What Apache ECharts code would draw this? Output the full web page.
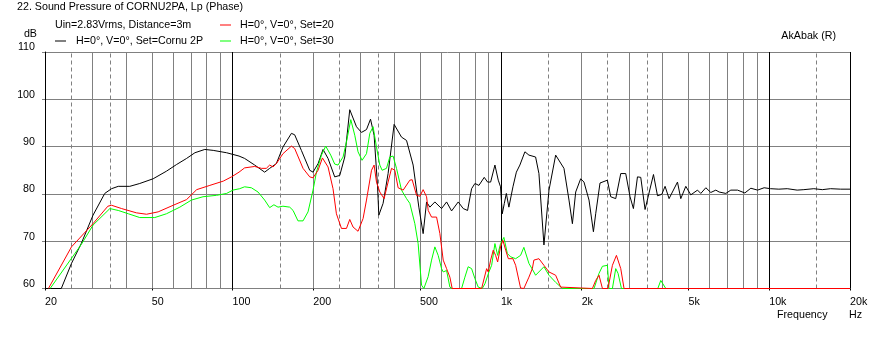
<!DOCTYPE html>
<html>
<head>
<meta charset="utf-8">
<script src="https://cdn.jsdelivr.net/npm/echarts@6/dist/echarts.min.js"></script>
<style>
  html, body { margin: 0; padding: 0; background: #fff; }
  #main { width: 872px; height: 354px; }
</style>
</head>
<body>
<div id="main"></div>
<script>
// [frequency Hz, level dB]
const cornu2p = [[20,60],[23.0,60],[25.1,65.3],[27.3,69.5],[30.2,75.5],[33.4,80.1],[35.4,81.1],[37.5,81.6],[41.4,81.6],[45.1,82.2],[50.6,83.2],[56.7,84.8],[61.8,86.2],[67.4,87.5],[72.4,88.7],[78.8,89.4],[84.7,89.2],[95.0,88.7],[105.7,88.0],[110.9,87.5],[120.9,86.1],[131.7,84.6],[137.5,85.4],[145.6,86.4],[154.1,89.9],[165.7,92.8],[170.4,92.5],[180.5,89.2],[193.9,85.0],[199.5,84.6],[208.3,86.4],[217.4,89.4],[226.9,87.5],[240.3,83.6],[250.9,83.9],[261.9,87.8],[273.4,97.8],[289.6,94.2],[302.3,93.0],[315.6,93.6],[326.7,95.8],[336.9,92.4],[346.9,81.8],[350.8,75.5],[363.9,78.0],[379.9,84.3],[400,94.7],[426.3,92.0],[445,91.3],[470.9,86.1],[494.6,77.2],[513.2,71.6],[528.5,78.3],[543.6,77.2],[567.5,78.3],[601.1,76.9],[627.5,78.3],[655,76.4],[693.5,78.3],[723.9,76.9],[751.3,76.5],[777.8,81.1],[800.2,82.2],[828.2,81.8],[866.8,83.5],[892.2,82.5],[915.7,82.5],[950.2,86.1],[977.6,82.9],[997,81.5],[1012,75.8],[1030,78.0],[1048,80.1],[1071,77.2],[1109,81.5],[1142,84.6],[1177,86.1],[1229,88.9],[1272,88.2],[1347,87.8],[1386,84.3],[1447,69.2],[1511,80.8],[1600,88.2],[1718,85.4],[1794,78.7],[1847,73.7],[1900,80.4],[1983,83.2],[2040,82.5],[2130,78.7],[2212,72.0],[2256,75.8],[2341,82.3],[2494,82.9],[2566,79.4],[2679,79.0],[2797,84.3],[2919,84.3],[3029,79.4],[3118,76.9],[3228,83.6],[3321,83.5],[3446,76.7],[3704,84.1],[3834,79.6],[3977,79.9],[4092,81.6],[4234,79.0],[4551,82.5],[4682,79.0],[4888,81.6],[5102,79.8],[5404,80.8],[5559,80.1],[5804,81.3],[6058,80.3],[6324,80.8],[6506,80.4],[6891,80.1],[7193,80.8],[7619,80.8],[8113,80.2],[8541,81.2],[9048,80.8],[9571,81.3],[10110,81.1],[10860,81.0],[11670,81.1],[12710,80.8],[13460,80.9],[14660,81.1],[15770,80.9],[16930,81.1],[18450,81.0],[20000,81.0]];

const set20 = [[20.6,60],[25.1,68.8],[30.2,73.7],[34.3,77.4],[35.4,77.6],[38.6,76.9],[43.8,76.0],[47.8,75.7],[52.8,76.2],[60.1,77.6],[67.4,78.8],[73.5,80.9],[82.3,81.8],[92.3,82.7],[99.1,83.6],[105.7,84.6],[110.9,85.5],[120.9,85.8],[128.1,85.4],[133.6,85.4],[137.5,86.1],[141.5,85.7],[145.6,86.4],[154.1,88.5],[165.7,90.1],[170.4,89.6],[183.1,85.4],[193.9,83.6],[199.5,83.4],[208.3,85.0],[216.2,87.6],[226.9,85.7],[236.8,81.1],[243.8,75.8],[254.6,72.7],[265.8,72.7],[273.4,74.6],[281.2,73.0],[293.5,72.1],[306.5,74.8],[315.6,78.7],[329.5,85.0],[336.9,86.1],[343.9,82.5],[353.8,80.4],[367.1,79.0],[379.9,82.5],[391.2,85.4],[402.4,85.0],[414,81.3],[432.3,80.8],[457.8,82.9],[467,83.0],[484.9,79.7],[498.9,79.5],[513.2,80.9],[528.5,79.4],[536,76.5],[551.6,75.1],[575.8,75.1],[592.4,71.6],[609.6,66.0],[627.5,64.2],[645.5,62.4],[658.4,60],[847.6,60],[884.8,64.2],[897.1,63.5],[915.7,66.0],[936.3,68.1],[955.9,67.0],[972.4,65.6],[997,68.8],[1017,70.2],[1042,68.1],[1066,66.3],[1109,66.3],[1135,64.9],[1184,60.1],[1218,60],[1272,62.4],[1310,64.2],[1327,66.0],[1386,66.3],[1447,64.9],[1511,63.5],[1600,62.8],[1670,60.3],[2193,60],[2256,61.7],[2321,62.8],[2390,60],[2507,60],[2604,64.9],[2695,67.0],[2797,64.2],[2877,60],[20000,60]];

const set30 = [[20.9,60],[27.3,69.3],[30.2,73.4],[34.9,76.9],[37.5,76.5],[40.9,75.8],[45.1,75.0],[51.3,75.0],[56.7,75.8],[63.6,77.2],[70.3,78.7],[77.6,79.4],[87.2,79.7],[95.0,80.1],[100.3,80.8],[106.3,81.1],[110.9,81.5],[117.5,81.3],[124.4,80.4],[131.7,78.7],[137.5,77.1],[142.6,77.7],[147.7,77.2],[154.1,77.4],[163.3,77.2],[168.1,76.5],[175.3,74.3],[183.1,74.3],[191.1,76.2],[199.5,80.8],[205.4,84.6],[214.4,88.2],[222.4,90.1],[232.2,88.2],[240.3,86.3],[247.2,86.1],[258.1,87.8],[265.8,91.0],[275.8,95.7],[285.4,92.4],[293.5,88.9],[303.8,87.1],[315.6,88.5],[324.7,92.8],[334,94.2],[343.9,89.9],[353.8,86.1],[360.9,85.0],[374.7,85.4],[385.5,87.8],[396.5,88.0],[408.3,85.4],[426.3,80.8],[445,79.0],[457.8,78.0],[477.9,73.7],[491.6,69.5],[506.2,60.7],[516.4,60],[535.7,62.5],[551.6,66.0],[567.5,68.8],[583.8,67.0],[601.1,64.2],[609.6,63.5],[627.5,63.8],[645.5,60.3],[658.4,60],[713.7,60],[734.3,62.4],[755.3,64.6],[777.8,64.2],[800.2,62.1],[823.1,60.3],[852,60],[872,61.0],[902.4,63.5],[923.6,64.9],[950.2,69.5],[972.4,67.0],[997,69.5],[1026,70.8],[1057,67.4],[1087,66.7],[1135,66.3],[1184,67.0],[1218,68.7],[1272,65.3],[1327,63.5],[1347,62.8],[1447,64.6],[1511,62.8],[1600,61.3],[1695,60],[2224,60],[2321,63.2],[2390,64.7],[2494,64.9],[2529,60],[2604,60],[2679,64.2],[2733,63.2],[2814,60],[3844,60],[3943,61.7],[4117,60],[20000,60]];

// axis ticks / grid
const xLabelFreqs = [20, 50, 100, 200, 500, 1000, 2000, 5000, 10000, 20000];
const solidFreqs = [30, 40, 50, 60, 70, 80, 90, 200, 300, 400, 500, 600, 700, 800, 900, 2000, 3000, 4000, 5000, 6000, 7000, 8000, 9000];
const dashedFreqs = [25, 35, 150, 250, 350, 1500, 2500, 3500, 15000];
const decadeFreqs = [100, 1000, 10000, 20000];

const seriesNames = ['H=0°, V=0°, Set=Cornu 2P', 'H=0°, V=0°, Set=20', 'H=0°, V=0°, Set=30'];

const FONT = '"Liberation Sans", Arial, sans-serif';
const FS = 10.7;
const txt = { fontFamily: FONT, fontSize: FS, fontWeight: 'normal', color: '#000' };

let chart = echarts.init(document.getElementById('main'));

let gridLines = [];
solidFreqs.forEach(f => gridLines.push({ xAxis: f, lineStyle: { color: '#808080', type: 'solid', width: 1 } }));
dashedFreqs.forEach(f => gridLines.push({ xAxis: f, lineStyle: { color: '#808080', type: [4, 3], width: 1 } }));
decadeFreqs.forEach(f => gridLines.push({ xAxis: f, lineStyle: { color: '#000', type: 'solid', width: 1 } }));

let option = {
    backgroundColor: '#fff',
    animation: false,
    textStyle: { fontFamily: FONT },
    title: [
        { text: '22. Sound Pressure of CORNU2PA, Lp (Phase)', left: 17, top: 2, padding: 0, textStyle: txt },
        { text: 'Uin=2.83Vrms, Distance=3m', left: 55, top: 20, padding: 0, textStyle: txt },
        { text: 'AkAbak (R)', right: 36, top: 31, padding: 0, textStyle: txt },
        { text: 'Frequency', left: 777, top: 310, padding: 0, textStyle: txt },
        { text: 'Hz', left: 849, top: 310, padding: 0, textStyle: txt }
    ],
    legend: [{
        data: [seriesNames[0]],
        left: 55, top: 34, padding: 0,
        icon: 'rect', itemWidth: 11, itemHeight: 1,
        textStyle: Object.assign({ lineHeight: 14, padding: [0, 0, 0, 5] }, txt),
        selectedMode: false
    }, {
        data: [seriesNames[1], seriesNames[2]],
        orient: 'vertical',
        left: 220, top: 18, padding: 0, itemGap: 2,
        icon: 'rect', itemWidth: 11, itemHeight: 1,
        textStyle: Object.assign({ lineHeight: 14, padding: [0, 0, 0, 4] }, txt),
        selectedMode: false
    }],
    grid: { left: 45, right: 22, top: 52, bottom: 65.5 },
    xAxis: {
        type: 'log',
        logBase: 10,
        min: 20,
        max: 20000,
        axisLine: { lineStyle: { color: '#808080' } },
        axisTick: { show: true, customValues: xLabelFreqs, length: 2, lineStyle: { color: '#000' } },
        axisLabel: {
            customValues: xLabelFreqs,
            align: 'left',
            margin: 8,
            fontFamily: FONT, fontSize: FS, color: '#000',
            formatter: v => v >= 1000 ? (v / 1000) + 'k' : String(v)
        },
        splitLine: { show: false }
    },
    yAxis: {
        type: 'value',
        min: 60,
        max: 110,
        interval: 10,
        name: 'dB',
        nameLocation: 'end',
        nameGap: 12,
        nameTextStyle: { align: 'right', padding: [0, 8, 0, 0], fontFamily: FONT, fontSize: FS, color: '#000' },
        axisLine: { show: true, lineStyle: { color: '#000' } },
        axisTick: { show: true, length: 3, lineStyle: { color: '#808080' } },
        axisLabel: { margin: 10, fontFamily: FONT, fontSize: FS, color: '#000', verticalAlign: 'bottom', lineHeight: 9 },
        splitLine: { show: true, lineStyle: { color: '#808080' } }
    },
    series: [{
        name: 'grid',
        type: 'line',
        data: [],
        silent: true,
        markLine: {
            silent: true,
            z: 1,
            symbol: ['none', 'none'],
            label: { show: false },
            emphasis: { disabled: true },
            data: gridLines
        }
    }, {
        name: seriesNames[0],
        type: 'line',
        data: cornu2p,
        showSymbol: false,
        clip: false,
        z: 3,
        color: '#000000',
        lineStyle: { width: 1, color: '#000000' }
    }, {
        name: seriesNames[2],
        type: 'line',
        data: set30,
        showSymbol: false,
        clip: false,
        z: 4,
        color: '#00ff00',
        lineStyle: { width: 1, color: '#00ff00' }
    }, {
        name: seriesNames[1],
        type: 'line',
        data: set20,
        showSymbol: false,
        clip: false,
        z: 5,
        color: '#ff0000',
        lineStyle: { width: 1, color: '#ff0000' }
    }]
};

chart.setOption(option);
</script>
</body>
</html>
